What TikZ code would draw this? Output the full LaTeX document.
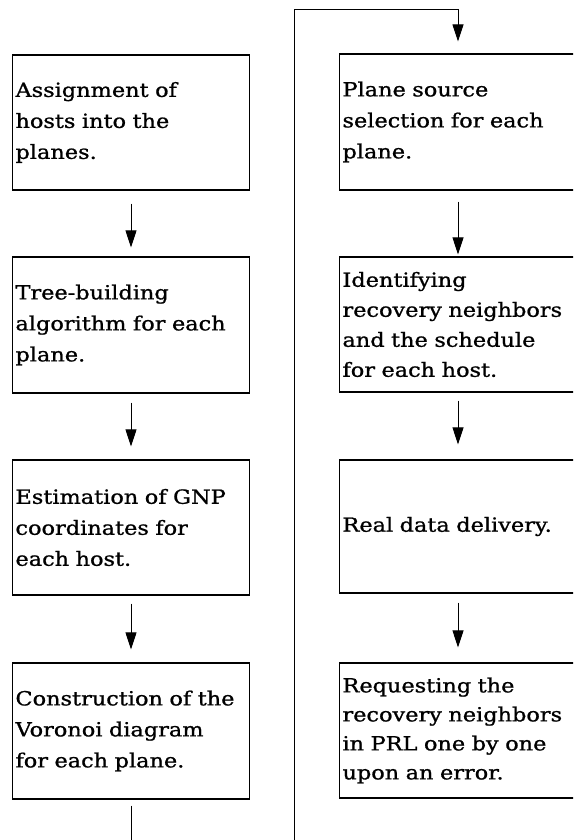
\documentclass[tikz,border=0pt]{standalone}
\usepackage{fontspec}
\newfontfamily\boxfont[FakeStretch=1.15,FakeBold=1]{DejaVu Serif}
\usetikzlibrary{arrows.meta}
\begin{document}
\begin{tikzpicture}[x=1pt,y=-1pt,
  stepbox/.style={draw, line width=1.2pt, minimum height=#1, text width=231pt,
    inner xsep=3pt, inner ysep=0pt, align=left,
    font=\boxfont\fontsize{19.5}{31}\selectfont},
  stepbox/.default=135pt,
  flow/.style={line width=0.8pt, -{Triangle[width=11pt,length=17pt]}}]
\useasboundingbox (0,0) rectangle (573,840);
\fill[white] (0,0) rectangle (573,840);
\clip (0,0) rectangle (573,840);
% left column
\node[stepbox=135pt] (L1) at (131,122.5) {Assignment of\\hosts into the\\planes.};
\node[stepbox=136pt] (L2) at (131,325) {Tree-building\\algorithm for each\\plane.};
\node[stepbox=135pt] (L3) at (131,527.5) {Estimation of GNP\\coordinates for\\each host.};
\node[stepbox=136pt] (L4) at (131,731) {Construction of the\\Voronoi diagram\\for each plane.};
% right column
\node[stepbox=136pt] (R1) at (458,122) {Plane source\\selection for each\\plane.};
\node[stepbox=135pt, font=\boxfont\fontsize{19.5}{30}\selectfont] (R2) at (458,324.5) {Identifying\\recovery neighbors\\and the schedule\\for each host.};
\node[stepbox=133pt] (R3) at (458,526.5) {Real data delivery.};
\node[stepbox=135pt, font=\boxfont\fontsize{19.5}{29}\selectfont] (R4) at (458,730.5) {Requesting the\\recovery neighbors\\in PRL one by one\\upon an error.};
% arrows
\draw[flow, shorten <=13pt, shorten >=9pt] (L1) -- (L2);
\draw[flow, shorten <=9pt, shorten >=13pt] (L2) -- (L3);
\draw[flow, shorten <=8pt, shorten >=13pt] (L3) -- (L4);
\draw[flow, shorten <=11pt, shorten >=2pt] (R1) -- (R2);
\draw[flow, shorten <=8pt, shorten >=15pt] (R2) -- (R3);
\draw[flow, shorten <=9pt, shorten >=15pt] (R3) -- (R4);
% loop from the bottom of the left column to the top of the right column
\coordinate (lpbot) at (294,860);
\coordinate (lptop) at (294,9);
\draw[flow, line width=0.9pt, shorten >=12pt] ([yshift=-6pt]L4.south) -- (L4.south |- lpbot) -- (lpbot) -- (lptop) -| (R1.north);
\end{tikzpicture}
\end{document}
